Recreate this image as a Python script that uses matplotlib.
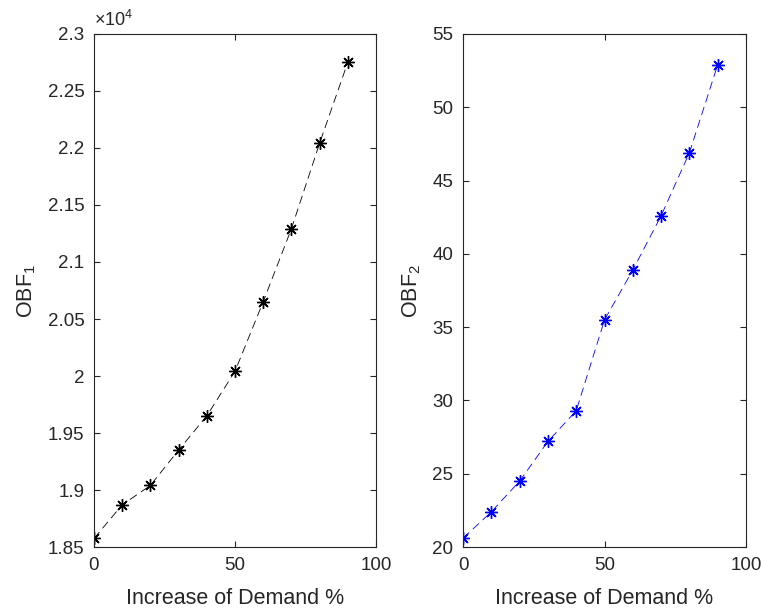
import numpy as np
import matplotlib
matplotlib.use('Agg')
import matplotlib.pyplot as plt
from matplotlib.ticker import FuncFormatter

plt.rcParams['font.family'] = ['Liberation Sans', 'DejaVu Sans']
plt.rcParams['mathtext.fontset'] = 'custom'
plt.rcParams['mathtext.rm'] = 'Liberation Sans'
plt.rcParams['mathtext.it'] = 'Liberation Sans'

# data
demand = [0, 10, 20, 30, 40, 50, 60, 70, 80, 90]
obf1 = [18575, 18870, 19040, 19350, 19650, 20040, 20650, 21290, 22040, 22750]
obf2 = [20.6, 22.4, 24.5, 27.2, 29.3, 35.5, 38.9, 42.6, 46.9, 52.9]

txt = '#262626'
asterisk = (8, 2, 0)

fig = plt.figure(figsize=(7.61, 6.11), dpi=100)
ax1 = fig.add_axes([0.1235, 0.1047, 0.3705, 0.8397])
ax2 = fig.add_axes([0.6085, 0.1047, 0.3718, 0.8397])

def style(ax):
    ax.set_xlim(0, 100)
    ax.set_xticks([0, 50, 100])
    ax.tick_params(direction='in', top=True, right=True, labelsize=13.5,
                   colors=txt, length=4, width=0.8, pad=7)
    for s in ax.spines.values():
        s.set_color(txt)
        s.set_linewidth(0.8)
    ax.set_xlabel('Increase of Demand %', fontsize=15.5, color=txt, labelpad=10)

ax1.plot(demand, obf1, color='black', ls=(0, (10, 6)), lw=0.6,
         marker=asterisk, ms=9, mew=1.0)
style(ax1)
ax1.set_ylim(18500, 23000)
ax1.set_yticks(np.arange(18500, 23001, 500))
ax1.yaxis.set_major_formatter(FuncFormatter(lambda v, p: '%g' % round(v / 1e4, 4)))
ax1.set_ylabel(r'OBF$_\mathregular{1}$', fontsize=15.5, color=txt, labelpad=7)
ax1.text(0.0, 1.008, r'$\times\mathregular{10^4}$', transform=ax1.transAxes,
         fontsize=13, color=txt, ha='left', va='bottom')

ax2.plot(demand, obf2, color='blue', ls=(0, (10, 6)), lw=0.6,
         marker=asterisk, ms=9, mew=1.0)
style(ax2)
ax2.set_ylim(20, 55)
ax2.set_yticks(np.arange(20, 56, 5))
ax2.set_ylabel(r'OBF$_\mathregular{2}$', fontsize=15.5, color=txt, labelpad=7)

fig.savefig('out.png', dpi=100)
